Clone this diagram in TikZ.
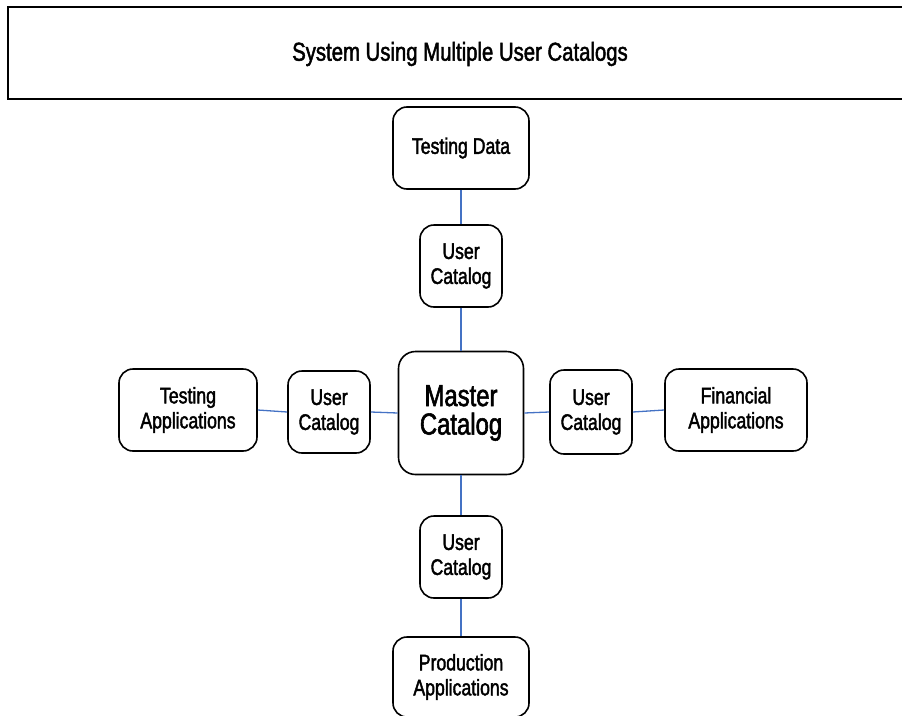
\documentclass[tikz,border=0pt]{standalone}
\usepackage{fontspec}
\setmainfont[FakeStretch=0.785, FakeBold=1.8]{Liberation Sans}
\definecolor{linkblue}{RGB}{68,114,196}
\tikzset{
  box/.style={draw=black, line width=1.6pt, rounded corners=14pt, fill=white,
    align=center, inner sep=0pt, font=\fontsize{22.5}{25}\selectfont},
  catbox/.style={box, minimum width=82pt, minimum height=82pt},
  appbox/.style={box, minimum width=137pt, minimum height=82pt},
  bigbox/.style={box, rounded corners=17pt, minimum width=125pt, minimum height=123pt,
    font=\fontsize{30.4}{28.5}\selectfont},
  link/.style={draw=linkblue, line width=1.3pt}
}
\begin{document}
\begin{tikzpicture}[x=1pt, y=-1pt]
\useasboundingbox (0,0) rectangle (902,715);
% heading panel, running off the right edge
\node[draw=black, line width=1.8pt, minimum width=930pt, minimum height=92pt,
  inner sep=0pt] (title) at (473,53) {};
\node[font=\fontsize{25.9}{28}\selectfont] (titletext) at (460,54) {System Using Multiple User Catalogs};

% hub and its catalogs
\node[bigbox] (master) at (461,413) {Master\\Catalog};
\node[catbox] (uctop) at (461,266) {User\\Catalog};
\node[catbox] (ucleft) at (329,412) {User\\Catalog};
\node[catbox, minimum height=84pt] (ucright) at (591,412) {User\\Catalog};
\node[catbox] (ucbottom) at (461,557) {User\\Catalog};

% application areas
\node[appbox, minimum width=136pt] (tdata) at (461,148) {Testing Data};
\node[appbox, minimum width=138pt] (tapps) at (188,410) {Testing\\Applications};
\node[appbox, minimum width=142pt] (fin) at (736,410) {Financial\\Applications};
\node[appbox, minimum width=136pt, minimum height=80pt] (prod) at (461,677) {Production\\Applications};

% connectors
\draw[link] (tdata.south) -- (uctop.north);
\draw[link] (uctop.south) -- (master.north);
\draw[link] (master.south) -- (ucbottom.north);
\draw[link] (ucbottom.south) -- (prod.north);
\draw[link] (tapps.east) -- (ucleft.west);
\draw[link] (ucleft.east) -- (master.west);
\draw[link] (master.east) -- (ucright.west);
\draw[link] (ucright.east) -- (fin.west);
\end{tikzpicture}
\end{document}
